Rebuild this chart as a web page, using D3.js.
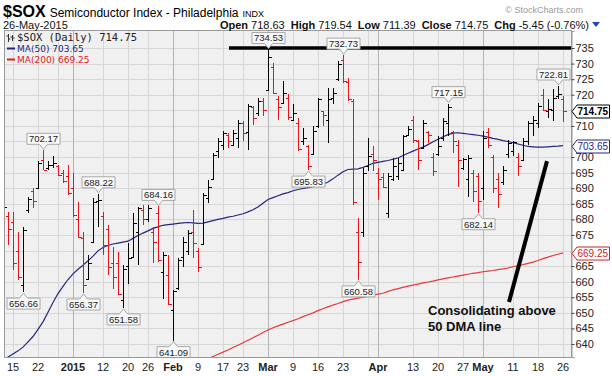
<!DOCTYPE html>
<html>
<head>
<meta charset="utf-8">
<script src="https://cdn.jsdelivr.net/npm/d3@7"></script>
<style>
body { margin: 0; background: #fff; }
text { font-family: "Liberation Sans", Arial, sans-serif; }
</style>
</head>
<body>
<div id="chart-area"></div>
<script>
// trading days shown (Dec 11 2014 .. May 26 2015)
const dates = [
  "2014-12-11","2014-12-12","2014-12-15","2014-12-16","2014-12-17","2014-12-18","2014-12-19","2014-12-22","2014-12-23","2014-12-24","2014-12-26","2014-12-29","2014-12-30","2014-12-31",
  "2015-01-02","2015-01-05","2015-01-06","2015-01-07","2015-01-08","2015-01-09","2015-01-12","2015-01-13","2015-01-14","2015-01-15","2015-01-16","2015-01-20","2015-01-21","2015-01-22","2015-01-23","2015-01-26","2015-01-27","2015-01-28","2015-01-29","2015-01-30",
  "2015-02-02","2015-02-03","2015-02-04","2015-02-05","2015-02-06","2015-02-09","2015-02-10","2015-02-11","2015-02-12","2015-02-13","2015-02-17","2015-02-18","2015-02-19","2015-02-20","2015-02-23","2015-02-24","2015-02-25","2015-02-26","2015-02-27",
  "2015-03-02","2015-03-03","2015-03-04","2015-03-05","2015-03-06","2015-03-09","2015-03-10","2015-03-11","2015-03-12","2015-03-13","2015-03-16","2015-03-17","2015-03-18","2015-03-19","2015-03-20","2015-03-23","2015-03-24","2015-03-25","2015-03-26","2015-03-27","2015-03-30","2015-03-31",
  "2015-04-01","2015-04-02","2015-04-06","2015-04-07","2015-04-08","2015-04-09","2015-04-10","2015-04-13","2015-04-14","2015-04-15","2015-04-16","2015-04-17","2015-04-20","2015-04-21","2015-04-22","2015-04-23","2015-04-24","2015-04-27","2015-04-28","2015-04-29","2015-04-30",
  "2015-05-01","2015-05-04","2015-05-05","2015-05-06","2015-05-07","2015-05-08","2015-05-11","2015-05-12","2015-05-13","2015-05-14","2015-05-15","2015-05-18","2015-05-19","2015-05-20","2015-05-21","2015-05-22","2015-05-26"
]

const opens = [
  680, 681, 679, 670, 659, 683, 689, 690, 699, 696.5, 697.5, 697, 695, 694,
  690, 680, 674, 661, 672.8, 686, 681, 677, 666, 666, 654, 665, 668, 676, 683, 680, 676, 682, 663, 662,
  651, 658, 668, 670, 676, 670, 672, 687, 693, 702, 704, 707, 704, 706, 711, 708, 716, 714, 718,
  721.5, 729, 718.5, 717.5, 719, 712, 711, 705, 703.5, 701, 710, 714.7, 712, 719, 725, 731, 724, 718, 676, 676, 697, 701,
  695, 693.5, 682, 693, 694, 696, 707, 712, 705, 703, 708, 700, 701, 706, 711, 708, 704, 696.5, 693, 695, 694,
  690, 708, 700, 693, 692, 701, 702, 700, 699, 705, 711, 711, 720, 714.7, 715, 719.5, 718.63
]
const highs = [
  688, 682.5, 682.5, 676, 677.7, 687.3, 690, 698.6, 702.17, 698.6, 700.2, 697.5, 696, 697.5,
  694.8, 685.7, 676.1, 668.5, 686.8, 688.22, 682.5, 678.2, 671.2, 669.6, 665.3, 672.3, 682, 684.1, 684.7, 684.5, 677.7, 684.16, 669.6, 668.5,
  657.3, 667.5, 674.4, 676.6, 683, 670.7, 688.4, 692.7, 701.3, 706.1, 708.3, 707.7, 708.8, 712, 711.5, 716.9, 716.3, 719, 719,
  734.53, 730.3, 719.5, 724.4, 720.1, 716.9, 712.6, 709.3, 704, 709.9, 719, 714.7, 722.2, 722.2, 730.8, 732.73, 725.4, 718.5, 680.4, 696.5, 706.1, 703.4,
  696.5, 694.8, 694.8, 699.7, 699.7, 707.2, 709.9, 713.1, 705.6, 712, 708.3, 701.3, 706.6, 712.6, 717.15, 708.3, 705.6, 699.7, 700.7, 695.9, 694.8,
  708.3, 709.3, 700.7, 694.8, 697, 705.6, 705, 701.3, 706.1, 711.7, 713.1, 717.4, 721.7, 718.5, 721.7, 722.81, 719.54
]
const lows = [
  678, 671.8, 663.7, 660.5, 656.66, 682, 683.6, 689.8, 695.9, 696, 696.5, 693.8, 691.6, 687.9,
  680.9, 673.9, 656.37, 660.5, 672.3, 677.7, 668.5, 662.1, 657.8, 655.7, 651.58, 659.4, 667.5, 665.3, 678.2, 679, 665.9, 666.4, 654.6, 652.4,
  641.09, 657.3, 664.8, 668.5, 667.5, 663.2, 671.8, 685.2, 692.7, 699.7, 702.3, 702.9, 703.4, 702.9, 705, 702.3, 710.4, 713.1, 713.1,
  721.2, 720.1, 712, 717.4, 712, 711.5, 701.8, 704, 695.83, 700.7, 709.3, 709.9, 704.5, 716.9, 724.4, 723.8, 717.9, 684.6, 660.58, 674.5, 695.4, 695.4,
  686.3, 690, 680.4, 692.2, 692.7, 695.4, 706.6, 704.5, 696, 702.9, 704.5, 693.8, 700.2, 705, 706.6, 701.3, 690.5, 696, 687.3, 685.7, 682.14,
  686.3, 702.9, 688.4, 683.6, 691.1, 699.7, 700.2, 693.8, 698.6, 704, 706.6, 709.3, 714.7, 712.6, 711.5, 718.5, 711.39
]
const closes = [
  684, 677, 666, 661.6, 676.6, 686.5, 686, 698, 696, 697.5, 698.2, 694.3, 692.2, 688.4,
  681.4, 674.5, 658.9, 666, 685.7, 686.2, 671.8, 664.8, 661.6, 656.2, 664.2, 667.5, 678.8, 683.6, 680, 683.5, 672.8, 667, 668.5, 653,
  657, 667, 672.8, 675.5, 672.3, 664.8, 687.9, 690.5, 700.8, 705, 707.7, 705, 707.7, 711, 707.7, 716.3, 712.6, 717.9, 715.2,
  732, 720.6, 716, 720.6, 713, 714.2, 702.5, 706, 697, 708.5, 718.5, 713.6, 718.5, 720.6, 730, 724.4, 718.5, 685.7, 666.4, 695, 700.5, 699,
  693, 690.5, 694, 697, 698, 706.6, 709, 705.6, 699.1, 711, 707.2, 695.5, 703.4, 711.5, 716, 705, 699.1, 699.5, 699.8, 689, 686,
  706, 704, 690, 688, 696, 704.5, 704.8, 697, 705, 711, 712, 716.5, 715, 715.3, 719, 720.2, 714.75
]

const ma50 = [
  634.8, 635.8, 636.8, 637.8, 639.0, 640.7, 642.4, 644.7, 647.1, 650.2, 653.3, 656.2, 658.5, 660.7,
  662.5, 664.0, 665.3, 666.7, 668.2, 669.9, 671.0, 671.6, 672.1, 672.4, 672.7, 673.0, 673.9, 674.8, 675.6, 676.3, 677.1, 677.6, 678.1, 678.3,
  678.5, 678.7, 678.9, 679.0, 678.9, 678.7, 678.8, 679.2, 679.6, 680.0, 680.3, 680.7, 681.0, 681.4, 681.8, 682.4, 683.1, 684.0, 685.2,
  686.4, 687.0, 687.6, 688.2, 688.6, 689.2, 689.6, 689.9, 690.2, 690.5, 690.9, 691.2, 692.0, 693.0, 694.2, 695.3, 696.0, 696.1, 696.2, 696.7, 697.3, 698.0,
  698.3, 698.6, 698.9, 699.3, 699.7, 700.5, 701.2, 701.9, 702.6, 703.2, 704.0, 704.9, 705.7, 706.5, 707.2, 707.7, 707.8, 707.6, 707.4, 707.2, 707.0,
  706.7, 706.4, 706.0, 705.7, 705.3, 705.0, 704.6, 704.2, 703.8, 703.4, 703.3, 703.2, 703.2, 703.3, 703.4, 703.5, 703.65
]
const ma200 = [
  null, null, null, null, null, null, null, null, null, null, null, null, null, null,
  null, null, null, null, null, null, null, null, null, null, null, null, null, null, null, null, null, null, null, null,
  null, null, null, 632.5, 633.2, 633.9, 634.6, 635.3, 636.0, 636.7, 637.4, 638.1, 638.9, 639.6, 640.4, 641.2, 642.0, 642.8, 643.7,
  644.5, 645.2, 645.8, 646.4, 647.0, 647.5, 648.1, 648.8, 649.4, 650.0, 650.7, 651.3, 651.9, 652.5, 653.0, 653.6, 654.1, 654.4, 654.7, 655.0, 655.3, 655.7,
  656.0, 656.3, 656.9, 657.4, 657.8, 658.2, 658.6, 658.9, 659.2, 659.6, 659.9, 660.2, 660.6, 660.9, 661.2, 661.5, 661.8, 662.1, 662.4, 662.7, 662.9,
  663.2, 663.4, 663.6, 663.9, 664.1, 664.4, 664.8, 665.2, 665.5, 665.9, 666.3, 666.8, 667.4, 667.9, 668.4, 668.8, 669.25
]

// x axis ticks (weekly) and labels, month starts in bold
const tickDates = ["2014-12-15","2014-12-22","2014-12-29","2015-01-02","2015-01-12","2015-01-20","2015-01-26","2015-02-02","2015-02-09","2015-02-17","2015-02-23","2015-03-02","2015-03-09","2015-03-16","2015-03-23","2015-03-30","2015-04-01","2015-04-13","2015-04-20","2015-04-27","2015-05-01","2015-05-11","2015-05-18","2015-05-26"]
const tickLabels = ["15","22","","2015","12","20","26","Feb","9","17","23","Mar","9","16","23","","Apr","13","20","27","May","11","18","26"]
const monthTicks = ["2015","Feb","Mar","Apr","May"]
const priceTicks = d3.range(640, 736, 5)

// boxed high / low callouts
const callouts = [
  { date: "2014-12-17", value: 656.66, pos: "below" },
  { date: "2014-12-23", value: 702.17, pos: "above" },
  { date: "2015-01-06", value: 656.37, pos: "below" },
  { date: "2015-01-09", value: 688.22, pos: "above" },
  { date: "2015-01-16", value: 651.58, pos: "below" },
  { date: "2015-01-28", value: 684.16, pos: "above" },
  { date: "2015-02-02", value: 641.09, pos: "below" },
  { date: "2015-03-02", value: 734.53, pos: "above" },
  { date: "2015-03-12", value: 695.83, pos: "below" },
  { date: "2015-03-23", value: 732.73, pos: "above" },
  { date: "2015-03-26", value: 660.58, pos: "below" },
  { date: "2015-04-22", value: 717.15, pos: "above" },
  { date: "2015-04-30", value: 682.14, pos: "below" },
  { date: "2015-05-22", value: 722.81, pos: "above" }
]
const resistance = { value: 735, fromIndex: 45.2 }
const arrowLine = [[101.2, 653.5], [108.8, 698.7]]

const W = 612, H = 376
const PLOT = { left: 5, right: 571, top: 31, bottom: 357 }
const RED = "#e8141b", NAVY = "#26267f", MA_RED = "#e8393b"

const svg = d3.select("#chart-area").append("svg")
    .attr("width", W)
    .attr("height", H)

const x = d3.scaleLinear()
    .domain([0, dates.length - 1])
    .range([3, 563])
const xd = d => x(dates.indexOf(d))
const y = d3.scaleLinear()
    .domain([635.83, 740.46])
    .range([PLOT.bottom, PLOT.top])

// plot background
svg.append("rect")
    .attr("x", PLOT.left).attr("y", PLOT.top)
    .attr("width", PLOT.right - PLOT.left).attr("height", PLOT.bottom - PLOT.top)
    .attr("fill", "#f0f0f0")

svg.append("clipPath").attr("id", "clip")
  .append("rect")
    .attr("x", PLOT.left).attr("y", PLOT.top)
    .attr("width", PLOT.right - PLOT.left).attr("height", PLOT.bottom - PLOT.top)

const grid = svg.append("g").attr("shape-rendering", "crispEdges")
grid.selectAll(".hg").data(priceTicks).enter().append("line")
    .attr("x1", PLOT.left).attr("x2", PLOT.right)
    .attr("y1", d => Math.round(y(d)) + 0.5).attr("y2", d => Math.round(y(d)) + 0.5)
    .attr("stroke", "#d6d6d6")
grid.selectAll(".vg").data(tickDates).enter().append("line")
    .attr("x1", d => Math.round(xd(d)) + 0.5).attr("x2", d => Math.round(xd(d)) + 0.5)
    .attr("y1", PLOT.top).attr("y2", PLOT.bottom)
    .attr("stroke", (d, i) => monthTicks.includes(tickLabels[i]) ? "#b4b4b4" : "#d6d6d6")

const plot = svg.append("g").attr("clip-path", "url(#clip)")

// moving averages
const line = d3.line()
    .defined(d => d != null)
    .x((d, i) => x(i))
    .y(d => y(d))
plot.append("path").datum(ma200)
    .attr("d", line)
    .attr("fill", "none").attr("stroke", MA_RED).attr("stroke-width", 1.2)
plot.append("path").datum(ma50)
    .attr("d", line)
    .attr("fill", "none").attr("stroke", NAVY).attr("stroke-width", 1.2)

// OHLC bars
const bars = plot.append("g").attr("shape-rendering", "crispEdges")
bars.selectAll("path").data(dates).enter().append("path")
    .attr("d", (d, i) => {
        const bx = Math.round(x(i)) + 0.5
        return `M${bx},${y(highs[i])}V${y(lows[i])}` +
            `M${bx - 3},${Math.round(y(opens[i])) + 0.5}H${bx}` +
            `M${bx},${Math.round(y(closes[i])) + 0.5}H${bx + 3}`
    })
    .attr("fill", "none")
    .attr("stroke", (d, i) => i > 0 && closes[i] < closes[i - 1] ? RED : "#000")
    .attr("stroke-width", 1)

// resistance line
svg.append("line")
    .attr("x1", x(resistance.fromIndex)).attr("x2", PLOT.right)
    .attr("y1", y(resistance.value)).attr("y2", y(resistance.value))
    .attr("stroke", "#000").attr("stroke-width", 3.5)

// annotation line
plot.append("line")
    .attr("x1", x(arrowLine[0][0])).attr("y1", y(arrowLine[0][1]))
    .attr("x2", x(arrowLine[1][0])).attr("y2", y(arrowLine[1][1]))
    .attr("stroke", "#000").attr("stroke-width", 4)

svg.append("text")
    .attr("x", x(85)).attr("y", y(649.3))
    .attr("font-size", "13px").attr("font-weight", "bold").attr("fill", "#111")
    .text("Consolidating above")
svg.append("text")
    .attr("x", x(85)).attr("y", y(644.1))
    .attr("font-size", "13px").attr("font-weight", "bold").attr("fill", "#111")
    .text("50 DMA line")

// callout boxes (kept inside the plot on the right)
const co = svg.append("g")
callouts.forEach(c => {
    const cx = Math.round(xd(c.date)) + 0.5
    const t = co.append("text")
        .attr("font-size", "9.5px").attr("fill", "#222")
        .attr("text-anchor", "middle")
        .text(c.value.toFixed(2))
    const w = t.node().getComputedTextLength() + 4
    const shift = Math.min(0, PLOT.right - 1 - (cx + w / 2))
    const bc = cx + shift
    const x0 = bc - w / 2, x1 = bc + w / 2
    let p, ty
    if (c.pos === "above") {
        const tip = y(c.value) - 1, b1 = tip - 5, b0 = b1 - 11
        p = `M${x0},${b0}H${x1}V${b1}H${Math.min(cx + 4, x1)}L${cx},${tip}L${cx - 4},${b1}H${x0}Z`
        ty = b1 - 2
    } else {
        const tip = y(c.value) + 1, b0 = tip + 5, b1 = b0 + 11
        p = `M${x0},${b0}H${cx - 4}L${cx},${tip}L${Math.min(cx + 4, x1)},${b0}H${x1}V${b1}H${x0}Z`
        ty = b1 - 2
    }
    co.insert("path", () => t.node())
        .attr("d", p).attr("fill", "#f8f8f8").attr("stroke", "#a8a8a8")
    t.attr("x", bc).attr("y", ty)
})

// plot frame and right axis
svg.append("rect")
    .attr("x", PLOT.left - 0.5).attr("y", PLOT.top - 0.5)
    .attr("width", PLOT.right - PLOT.left + 1).attr("height", PLOT.bottom - PLOT.top + 1)
    .attr("fill", "none").attr("stroke", "#9a9a9a")

const yAxis = svg.append("g")
    .attr("transform", `translate(${PLOT.right + 0.5},0)`)
    .call(d3.axisRight(y).tickValues(priceTicks.filter(d => d !== 715 && d !== 705 && d !== 670)).tickSize(3).tickPadding(1))
yAxis.select(".domain").attr("stroke", "#9a9a9a")
yAxis.selectAll("text").attr("font-size", "11px").attr("fill", "#222")
    .style("font-family", "'Liberation Sans', Arial, sans-serif")
yAxis.selectAll("line").attr("stroke", "#444")

// value tags on the right
const tags = [
    { value: closes[closes.length - 1], color: "#000", bold: true },
    { value: ma50[ma50.length - 1], color: NAVY, bold: false },
    { value: ma200[ma200.length - 1], color: "#d42020", bold: false }
]
tags.forEach(tg => {
    const ty = Math.round(y(tg.value)) + 0.5
    svg.append("path")
        .attr("d", `M${PLOT.right + 1},${ty}L${PLOT.right + 6},${ty - 6.5}H609.5V${ty + 6.5}H${PLOT.right + 6}Z`)
        .attr("fill", "#fff").attr("stroke", tg.color)
    svg.append("text")
        .attr("x", PLOT.right + 6.5).attr("y", ty + 3.5)
        .attr("font-size", "10px").attr("font-weight", tg.bold ? "bold" : "normal")
        .attr("fill", tg.color)
        .text(tg.value.toFixed(2))
})

// x axis
const xAxis = svg.append("g")
    .attr("transform", `translate(0,${PLOT.bottom})`)
    .call(d3.axisBottom(d3.scalePoint().domain(tickDates).range([0, 1]))
        .tickSize(0).tickPadding(6))
xAxis.select(".domain").remove()
xAxis.selectAll(".tick")
    .attr("transform", d => `translate(${xd(d)},0)`)
xAxis.selectAll("text")
    .text((d, i) => tickLabels[i])
    .attr("font-size", "11px").attr("fill", "#222")
    .attr("font-weight", (d, i) => monthTicks.includes(tickLabels[i]) ? "bold" : "normal")
    .style("font-family", "'Liberation Sans', Arial, sans-serif")

// legend
const lg = svg.append("g")
lg.append("path")
    .attr("d", "M8.5,34V42M6.5,36H8.5M8.5,39H10.5M12.5,35V41M10.5,37H12.5M12.5,38H14.5")
    .attr("stroke", "#333").attr("fill", "none")
lg.append("text")
    .attr("x", 17).attr("y", 41)
    .attr("font-size", "10.5px").style("font-family", "'DejaVu Sans Mono', monospace")
    .attr("fill", "#222")
    .text("$SOX (Daily) 714.75")
lg.append("line").attr("x1", 7).attr("x2", 15).attr("y1", 48.5).attr("y2", 48.5)
    .attr("stroke", NAVY).attr("stroke-width", 2)
lg.append("text")
    .attr("x", 17).attr("y", 52)
    .attr("font-size", "9px").style("font-family", "'DejaVu Sans', sans-serif")
    .attr("fill", NAVY)
    .text("MA(50) 703.65")
lg.append("line").attr("x1", 7).attr("x2", 15).attr("y1", 59.5).attr("y2", 59.5)
    .attr("stroke", "#e02020").attr("stroke-width", 2)
lg.append("text")
    .attr("x", 17).attr("y", 63)
    .attr("font-size", "9px").style("font-family", "'DejaVu Sans', sans-serif")
    .attr("fill", "#e02020")
    .text("MA(200) 669.25")

// header
const h1 = svg.append("text").attr("x", 3).attr("y", 17)
h1.append("tspan").attr("font-size", "16px").attr("font-weight", "bold").text("$SOX")
h1.append("tspan").attr("font-size", "12px").attr("dx", 4).text("Semiconductor Index - Philadelphia")
h1.append("tspan").attr("font-size", "9px").attr("dx", 4).text("INDX")

svg.append("text")
    .attr("x", 583).attr("y", 13)
    .attr("text-anchor", "end")
    .attr("font-size", "9px").attr("fill", "#9a9a9a")
    .text("© StockCharts.com")

svg.append("text")
    .attr("x", 3).attr("y", 29)
    .attr("font-size", "11px").attr("fill", "#111")
    .text("26-May-2015")

const quote = [["Open", "718.63"], ["High", "719.54"], ["Low", "711.39"], ["Close", "714.75"], ["Chg", "-5.45 (-0.76%)"]]
const h2 = svg.append("text").attr("x", 589).attr("y", 29)
    .attr("text-anchor", "end").attr("font-size", "11px").attr("fill", "#111")
quote.forEach((q, i) => {
    h2.append("tspan").attr("font-weight", "bold").attr("dx", i ? 6 : 0).text(q[0])
    h2.append("tspan").attr("dx", 3).text(q[1])
})
svg.append("path")
    .attr("d", "M592,22H600L596,27Z")
    .attr("fill", "#2244cc")
</script>
</body>
</html>
